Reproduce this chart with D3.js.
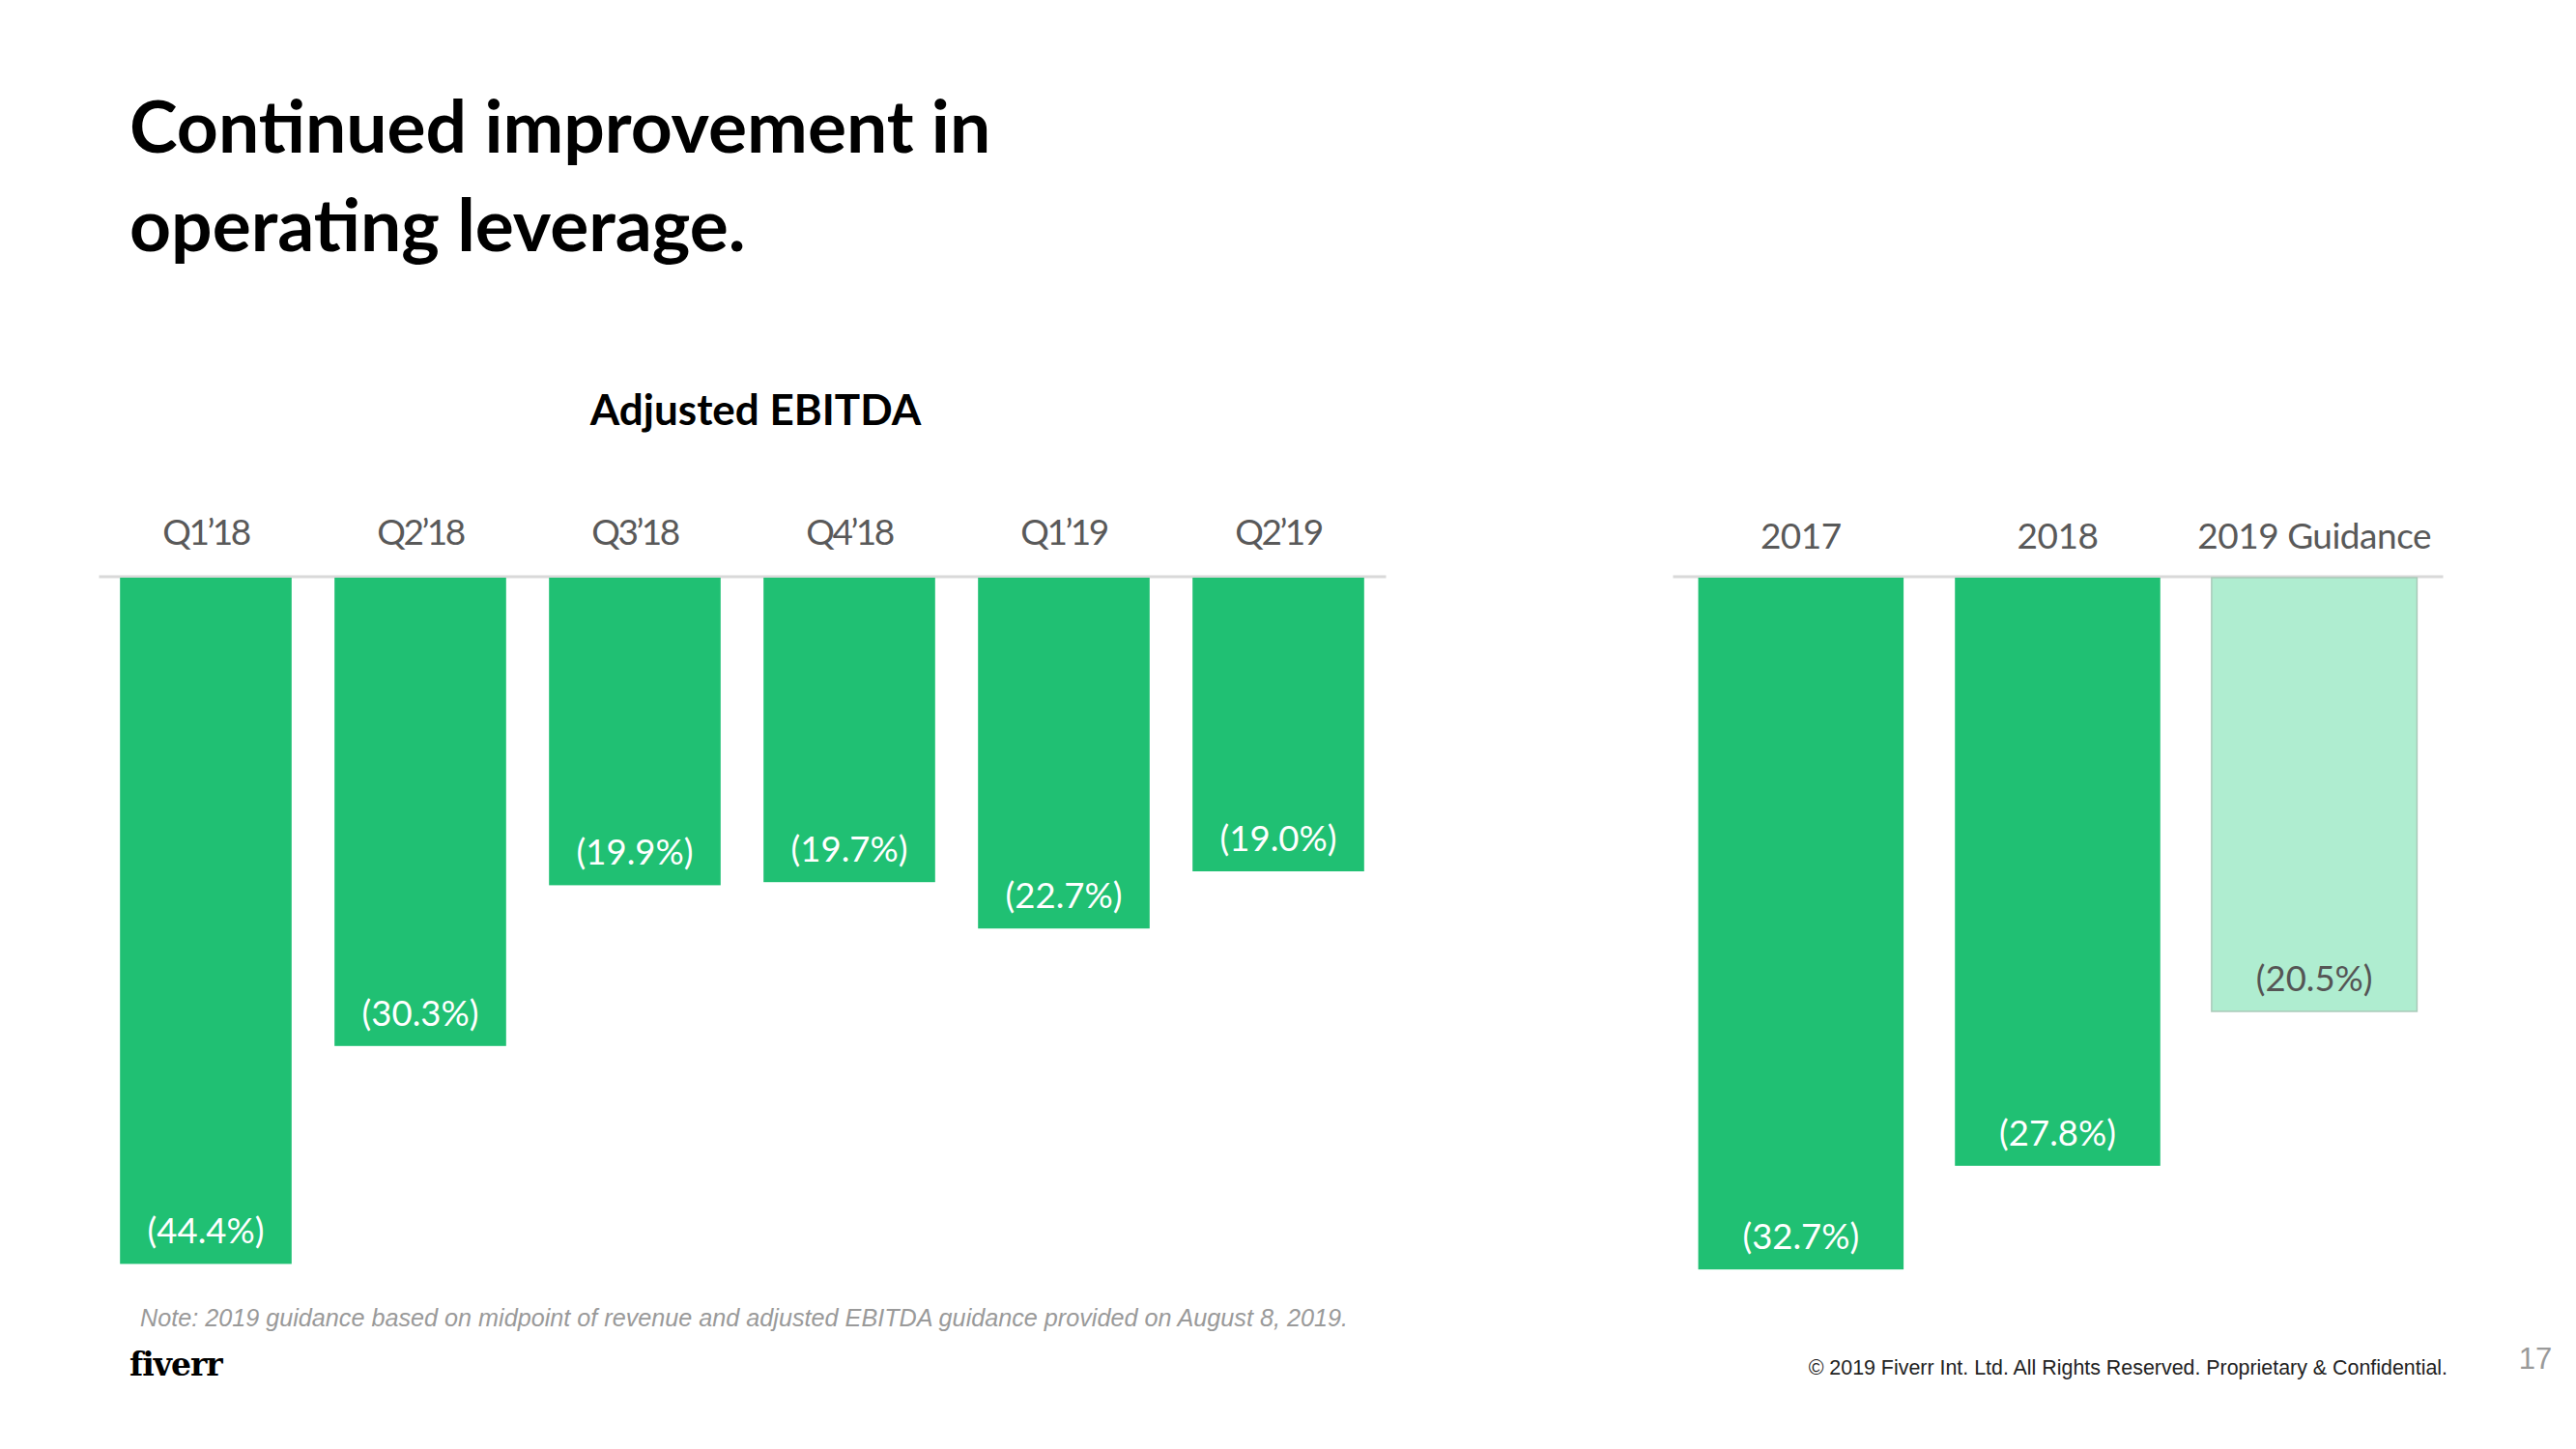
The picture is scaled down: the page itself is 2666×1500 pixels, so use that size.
<!DOCTYPE html>
<html>
<head>
<meta charset="utf-8">
<script src="https://cdn.jsdelivr.net/npm/d3@7"></script>
<style>
  html, body { margin: 0; padding: 0; background: #fff; }
  svg { display: block; }
</style>
</head>
<body>
<svg id="chart" width="2666" height="1500"></svg>
<script>
// ---- data ----
const quarters = ["Q1’18", "Q2’18", "Q3’18", "Q4’18", "Q1’19", "Q2’19"];
const quarterlyEbitda = [-44.4, -30.3, -19.9, -19.7, -22.7, -19.0];
const years = ["2017", "2018", "2019 Guidance"];
const annualEbitda = [-32.7, -27.8, -20.5];
const guidanceFlags = [false, false, true];

const titleLines = ["Continued improvement in", "operating leverage."];
const chartTitle = "Adjusted EBITDA";
const noteText = "Note: 2019 guidance based on midpoint of revenue and adjusted EBITDA guidance provided on August 8, 2019.";
const copyrightText = "© 2019 Fiverr Int. Ltd. All Rights Reserved. Proprietary & Confidential.";
const pageNumber = "17";
const logoText = "fiverr";

// ---- styles ----
const GREEN = "#20c073";
const LIGHT_GREEN = "#afedd0";
const GRID = "#d9d9d9";
const LABEL_GRAY = "#595959";
const fmt = v => "(" + Math.abs(v).toFixed(1) + "%)";

const svg = d3.select("#chart");

// Title
svg.append("g").selectAll("text").data(titleLines).join("text")
  .attr("x", 134).attr("y", (d, i) => 158 + i * 102)
  .attr("font-family", "Lato, 'Open Sans', sans-serif")
  .attr("font-weight", 700).attr("font-size", 75).attr("fill", "#000")
  .text(d => d);

svg.append("text")
  .attr("x", 782).attr("y", 440).attr("text-anchor", "middle")
  .attr("font-family", "Lato, sans-serif").attr("font-weight", 700)
  .attr("font-size", 44).attr("fill", "#000").text(chartTitle);

const y0 = 598;

function drawPanel(cfg) {
  const g = svg.append("g");
  const x = d3.scaleBand().domain(cfg.cats).range(cfg.xr).paddingInner(0.2).paddingOuter(0.1);
  const y = d3.scaleLinear().domain([0, cfg.minVal]).range([y0, y0 + cfg.span]);
  const data = cfg.cats.map((c, i) => ({ c, v: cfg.vals[i], light: cfg.flags ? cfg.flags[i] : false }));

  // axis with labels on top, domain line as baseline
  const axis = d3.axisTop(x).tickSize(0).tickSizeOuter(0).tickPadding(cfg.pad);
  const ag = g.append("g").attr("transform", `translate(0,${y0 - 1.5})`).call(axis);
  ag.select(".domain").attr("stroke", GRID).attr("stroke-width", 3);
  ag.selectAll(".tick text")
    .attr("font-family", "Lato, sans-serif").attr("font-weight", 400)
    .attr("font-size", cfg.fs).attr("letter-spacing", cfg.ls)
    .attr("fill", LABEL_GRAY);

  g.selectAll("rect.bar").data(data).join("rect").attr("class", "bar")
    .attr("x", d => x(d.c)).attr("width", x.bandwidth())
    .attr("y", y(0)).attr("height", d => y(d.v) - y(0))
    .attr("fill", d => d.light ? LIGHT_GREEN : GREEN)
    .attr("stroke", d => d.light ? "#a9c9b8" : "none")
    .attr("stroke-width", 1.5);

  g.selectAll("text.val").data(data).join("text").attr("class", "val")
    .attr("x", d => x(d.c) + x.bandwidth() / 2)
    .attr("y", d => y(d.v) - 21)
    .attr("text-anchor", "middle")
    .attr("font-family", "Lato, sans-serif").attr("font-weight", 400)
    .attr("font-size", 36.5)
    .attr("fill", d => d.light ? "#555" : "#fff")
    .text(d => fmt(d.v));
}

drawPanel({ cats: quarters, vals: quarterlyEbitda, xr: [102, 1434], minVal: -50, span: 800, pad: 33, fs: 37, ls: -2.5 });
drawPanel({ cats: years, vals: annualEbitda, flags: guidanceFlags, xr: [1731, 2528], minVal: -40, span: 876, pad: 29, fs: 37, ls: -0.5 });

// Footer
svg.append("text").attr("x", 145).attr("y", 1373)
  .attr("font-family", "'Liberation Sans', Arial, sans-serif").attr("font-style", "italic")
  .attr("font-weight", 300).attr("font-size", 25.2).attr("fill", "#9a9a9a").text(noteText);

svg.append("text").attr("x", 134).attr("y", 1424)
  .attr("font-family", "'DejaVu Serif', serif").attr("font-weight", 700)
  .attr("font-size", 33).attr("fill", "#000").attr("letter-spacing", -1).text(logoText);

svg.append("text").attr("x", 2533).attr("y", 1423).attr("text-anchor", "end")
  .attr("font-family", "'Liberation Sans', Arial, sans-serif")
  .attr("font-size", 21.4).attr("fill", "#222").text(copyrightText);

svg.append("text").attr("x", 2624).attr("y", 1417).attr("text-anchor", "middle")
  .attr("font-family", "'Liberation Sans', Arial, sans-serif")
  .attr("font-size", 31).attr("fill", "#9a9a9a").text(pageNumber);
</script>
</body>
</html>
